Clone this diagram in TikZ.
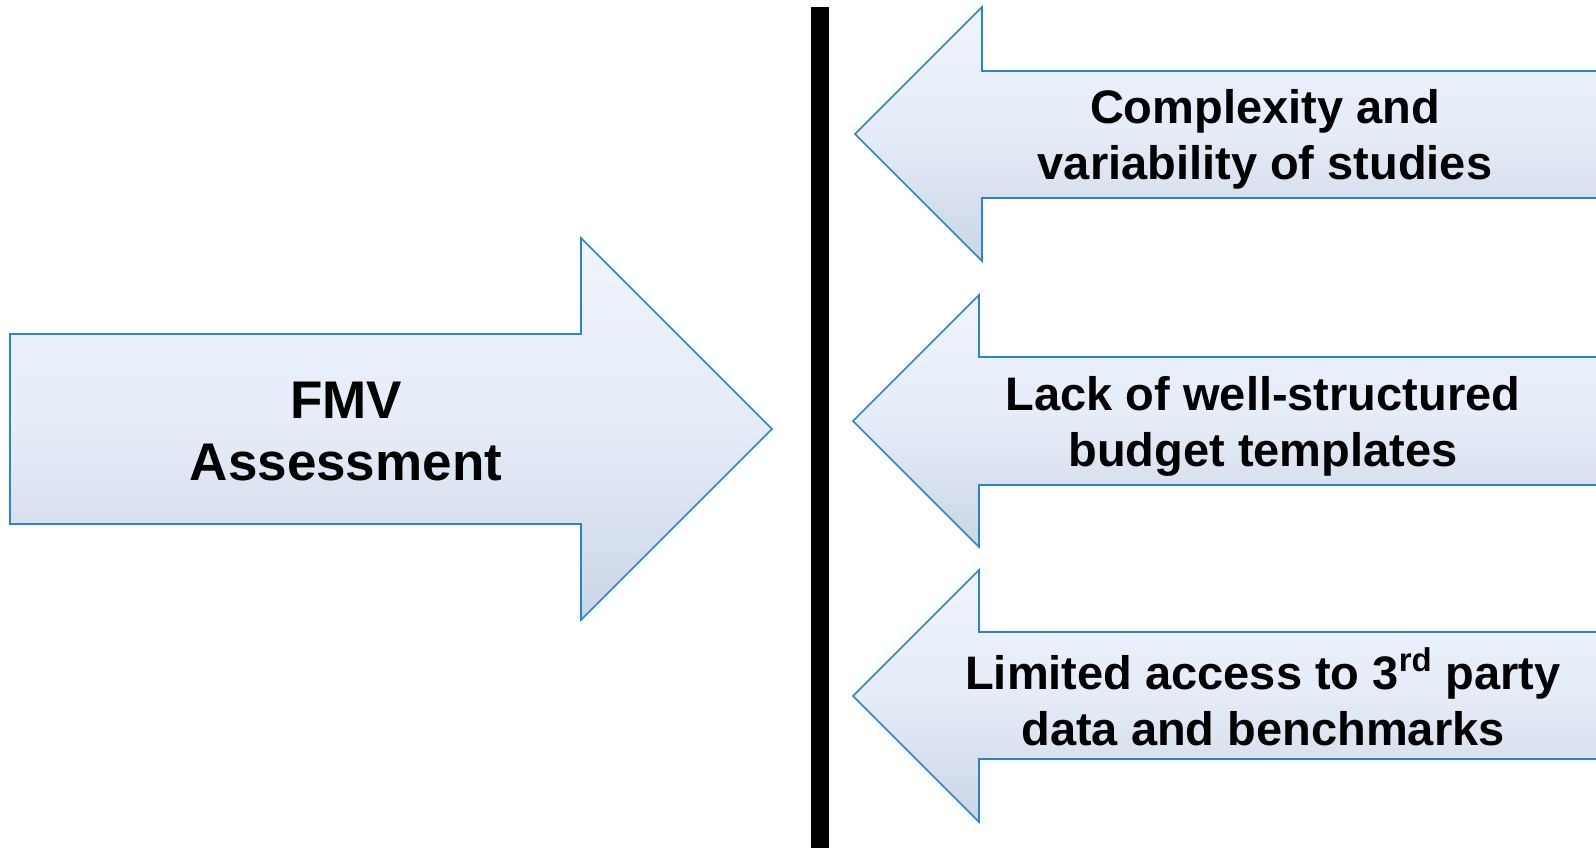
\documentclass[tikz,border=0pt]{standalone}
\usepackage{fontspec}
\setmainfont{Liberation Sans}
\definecolor{arrowline}{RGB}{42,134,204}
\definecolor{arrowtop}{RGB}{239,244,252}
\definecolor{arrowmid}{RGB}{229,236,248}
\definecolor{arrowbot}{RGB}{203,213,228}
\tikzset{
  bigarrow/.style={draw=arrowline, line width=0.8pt, line join=miter,
    top color=arrowtop, bottom color=arrowbot, middle color=arrowmid},
  arrowtext/.style={align=center, font=\bfseries\fontsize{23.5}{28}\selectfont},
}
\begin{document}
\begin{tikzpicture}[x=0.5pt,y=-0.5pt]
  \useasboundingbox (0,0) rectangle (1596,848);
  % right-pointing arrow
  \draw[bigarrow] (10,334) -- (581,334) -- (581,238) -- (772,429)
    -- (581,620) -- (581,524) -- (10,524) -- cycle;
  \node[arrowtext, font=\bfseries\fontsize{26.5}{31}\selectfont] (fmv) at (346,432) {FMV\\Assessment};
  % divider
  \draw[line width=9pt] (820,7) -- (820,848);
  % left-pointing arrows, cut off at the page edge
  \draw[bigarrow] (1610,71) -- (982,71) -- (982,7) -- (855,134)
    -- (982,261) -- (982,198) -- (1610,198) -- cycle;
  \draw[bigarrow] (1610,357) -- (979,357) -- (979,295) -- (853,421)
    -- (979,547) -- (979,485) -- (1610,485) -- cycle;
  \draw[bigarrow] (1610,632) -- (979,632) -- (979,570) -- (853,696)
    -- (979,822) -- (979,759) -- (1610,759) -- cycle;
  \node[arrowtext] (complexity) at (1265,139) {Complexity and\\variability of studies};
  \node[arrowtext] (lack) at (1263,426) {Lack of well-structured\\budget templates};
  \node[arrowtext] (access) at (1263,697) {Limited access to 3\textsuperscript{rd} party\\data and benchmarks};
\end{tikzpicture}
\end{document}
